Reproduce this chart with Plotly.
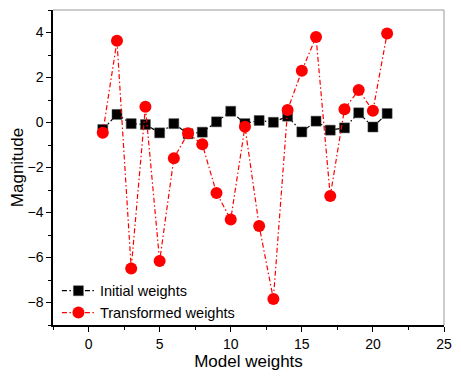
import plotly.graph_objects as go

x_idx = list(range(1, 22))
initial_weights = [-0.31, 0.36, -0.05, -0.09, -0.46, -0.05, -0.50, -0.43, 0.03, 0.50,
                   -0.05, 0.09, 0.01, 0.28, -0.42, 0.06, -0.34, -0.24, 0.43, -0.20, 0.40]
transformed_weights = [-0.46, 3.63, -6.49, 0.70, -6.16, -1.59, -0.48, -0.97, -3.13, -4.31,
                       -0.19, -4.60, -7.84, 0.56, 2.30, 3.80, -3.27, 0.59, 1.44, 0.52, 3.96]

dash_pattern = "5px,2.5px,1.5px,2.5px"

fig = go.Figure()
fig.add_trace(go.Scatter(
    x=x_idx, y=initial_weights, name="Initial weights", mode="lines+markers",
    line=dict(color="black", width=1.2, dash=dash_pattern),
    marker=dict(symbol="square", size=10, color="black",
                line=dict(color="#555555", width=0.5)),
))
fig.add_trace(go.Scatter(
    x=x_idx, y=transformed_weights, name="Transformed weights", mode="lines+markers",
    line=dict(color="red", width=1.2, dash=dash_pattern),
    marker=dict(symbol="circle", size=12, color="red"),
))

font_family = "Liberation Sans, Arial, sans-serif"
fig.update_layout(
    width=461, height=378,
    margin=dict(l=53, r=17, t=10, b=53, autoexpand=False),
    paper_bgcolor="white", plot_bgcolor="white",
    font=dict(family=font_family, size=13, color="black"),
    showlegend=True,
    legend=dict(x=0.01, y=-0.012, xanchor="left", yanchor="bottom",
                bgcolor="rgba(0,0,0,0)", font=dict(size=14.5),
                itemwidth=33, tracegroupgap=0),
    shapes=[
        dict(type="line", xref="paper", yref="paper", x0=0, x1=1, y0=1, y1=1,
             line=dict(color="#999999", width=1)),
        dict(type="line", xref="paper", yref="paper", x0=1, x1=1, y0=0, y1=1,
             line=dict(color="#999999", width=1)),
    ],
)
fig.update_xaxes(
    range=[-2.5, 25], tickmode="linear", tick0=0, dtick=5, automargin=False,
    showgrid=False, zeroline=False,
    showline=True, linecolor="black", linewidth=1.5,
    ticks="outside", ticklen=5, tickwidth=1, tickcolor="black",
    minor=dict(ticks="outside", dtick=2.5, tick0=0, ticklen=3, tickcolor="black", showgrid=False),
    title=dict(text="Model weights", font=dict(size=17), standoff=3),
    tickfont=dict(size=14),
)
fig.update_yaxes(
    range=[-9, 5], tickmode="linear", tick0=0, dtick=2, automargin=False,
    showgrid=False, zeroline=False,
    showline=True, linecolor="black", linewidth=1.5,
    ticks="outside", ticklen=5, tickwidth=1, tickcolor="black",
    minor=dict(ticks="outside", dtick=1, tick0=0, ticklen=3, tickcolor="black", showgrid=False),
    title=dict(text="Magnitude", font=dict(size=17), standoff=0),
    tickfont=dict(size=14),
)

fig.write_html("out.html", config={"displayModeBar": False},
               post_script="document.body.style.margin='0';document.body.style.overflow='hidden';")
